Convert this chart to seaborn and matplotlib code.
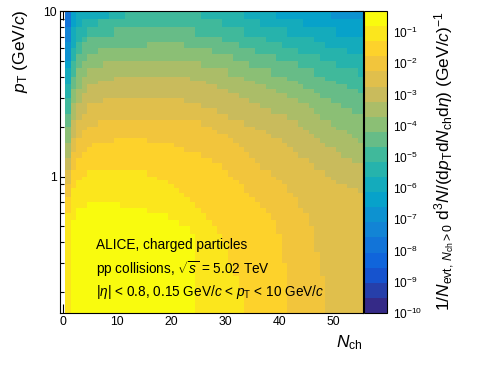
import numpy as np
import pandas as pd
import matplotlib
matplotlib.use("Agg")
import matplotlib.pyplot as plt
from matplotlib.colors import LinearSegmentedColormap, ListedColormap, LogNorm
from matplotlib.cm import ScalarMappable
from matplotlib.ticker import FixedLocator, FixedFormatter, MultipleLocator, NullFormatter, LogLocator
import seaborn as sns

# pT bin edges (GeV/c) and the Nch bins (centred on integers, Nch=0 is empty)
pt_edges = [0.15, 0.2, 0.25, 0.3, 0.35, 0.4, 0.45, 0.5, 0.55, 0.6, 0.65, 0.7,
            0.75, 0.8, 0.85, 0.9, 0.95, 1.0, 1.1, 1.2, 1.3, 1.4, 1.5, 1.6, 1.7,
            1.8, 1.9, 2.0, 2.2, 2.4, 2.6, 2.8, 3.0, 3.2, 3.4, 3.6, 3.8, 4.0,
            4.5, 5.0, 5.5, 6.0, 6.5, 7.0, 8.0, 9.0, 10.0]
nch_edges = [n - 0.5 for n in range(0, 57)]

# colour band (0 = 1e-10 ... 19 = top), one row per pT bin
# (lowest pT first); each entry is (band, last Nch having that band)
band_runs = [
    [(18, 1), (19, 24), (18, 33), (17, 41), (16, 48), (15, 55)],
    [(18, 1), (19, 24), (18, 32), (17, 41), (16, 48), (15, 55)],
    [(18, 1), (19, 24), (18, 31), (17, 41), (16, 47), (15, 55)],
    [(18, 1), (19, 24), (18, 30), (17, 40), (16, 47), (15, 55)],
    [(18, 1), (19, 24), (18, 30), (17, 40), (16, 46), (15, 55)],
    [(18, 1), (19, 24), (18, 29), (17, 40), (16, 46), (15, 55)],
    [(18, 1), (19, 23), (18, 28), (17, 39), (16, 46), (15, 55)],
    [(18, 1), (19, 21), (18, 27), (17, 39), (16, 45), (15, 55)],
    [(18, 2), (19, 19), (18, 26), (17, 38), (16, 45), (15, 55)],
    [(17, 1), (18, 2), (19, 15), (18, 25), (17, 37), (16, 44), (15, 55)],
    [(17, 1), (18, 4), (19, 10), (18, 24), (17, 36), (16, 43), (15, 55)],
    [(17, 1), (18, 23), (17, 35), (16, 43), (15, 55)],
    [(16, 1), (18, 22), (17, 34), (16, 42), (15, 55)],
    [(16, 1), (18, 21), (17, 33), (16, 41), (15, 54), (14, 55)],
    [(16, 1), (17, 2), (18, 20), (17, 33), (16, 41), (15, 52), (14, 55)],
    [(15, 1), (17, 2), (18, 19), (17, 32), (16, 40), (15, 50), (14, 55)],
    [(15, 1), (17, 3), (18, 17), (17, 31), (16, 39), (15, 49), (14, 55)],
    [(15, 1), (17, 4), (18, 15), (17, 30), (16, 38), (15, 48), (14, 55)],
    [(14, 1), (16, 2), (17, 29), (16, 36), (15, 46), (14, 55)],
    [(14, 1), (16, 2), (17, 27), (16, 35), (15, 45), (14, 53), (13, 55)],
    [(13, 1), (16, 3), (17, 25), (16, 34), (15, 43), (14, 51), (13, 55)],
    [(13, 1), (15, 2), (16, 4), (17, 22), (16, 33), (15, 42), (14, 50), (13, 55)],
    [(13, 1), (15, 2), (16, 5), (17, 20), (16, 32), (15, 41), (14, 48), (13, 55)],
    [(12, 1), (15, 2), (16, 9), (17, 15), (16, 31), (15, 40), (14, 47), (13, 54), (12, 55)],
    [(12, 1), (14, 2), (15, 3), (16, 30), (15, 38), (14, 46), (13, 53), (12, 55)],
    [(12, 1), (14, 2), (15, 3), (16, 28), (15, 37), (14, 45), (13, 52), (12, 55)],
    [(12, 1), (14, 2), (15, 4), (16, 27), (15, 35), (14, 44), (13, 50), (12, 55)],
    [(11, 1), (14, 2), (15, 6), (16, 25), (15, 33), (14, 43), (13, 49), (12, 55)],
    [(11, 1), (13, 2), (14, 3), (15, 30), (14, 41), (13, 47), (12, 55)],
    [(10, 1), (13, 2), (14, 4), (15, 28), (14, 38), (13, 46), (12, 53), (11, 55)],
    [(10, 1), (13, 2), (14, 4), (15, 25), (14, 36), (13, 45), (12, 51), (11, 55)],
    [(10, 1), (12, 2), (13, 3), (14, 7), (15, 22), (14, 34), (13, 43), (12, 49), (11, 55)],
    [(9, 1), (12, 2), (13, 3), (14, 32), (13, 41), (12, 47), (11, 55)],
    [(9, 1), (12, 2), (13, 4), (14, 30), (13, 39), (12, 46), (11, 54), (10, 55)],
    [(9, 1), (11, 2), (12, 3), (13, 4), (14, 28), (13, 37), (12, 44), (11, 52), (10, 55)],
    [(8, 1), (11, 2), (12, 3), (13, 6), (14, 26), (13, 35), (12, 43), (11, 50), (10, 55)],
    [(8, 1), (11, 2), (12, 3), (13, 9), (14, 23), (13, 33), (12, 41), (11, 48), (10, 55)],
    [(8, 1), (10, 2), (12, 4), (13, 30), (12, 38), (11, 46), (10, 54), (9, 55)],
    [(7, 1), (10, 2), (11, 3), (12, 7), (13, 25), (12, 34), (11, 43), (10, 50), (9, 55)],
    [(6, 1), (9, 2), (11, 4), (12, 31), (11, 39), (10, 47), (9, 55)],
    [(6, 1), (9, 2), (10, 3), (11, 6), (12, 27), (11, 35), (10, 43), (9, 52), (8, 55)],
    [(6, 1), (8, 2), (10, 3), (11, 15), (12, 22), (11, 32), (10, 40), (9, 48), (8, 55)],
    [(5, 1), (8, 2), (9, 3), (10, 4), (11, 29), (10, 37), (9, 46), (8, 55)],
    [(5, 1), (8, 2), (9, 4), (10, 9), (11, 24), (10, 33), (9, 41), (8, 50), (7, 55)],
    [(4, 1), (7, 2), (8, 3), (9, 6), (10, 29), (9, 36), (8, 44), (7, 55)],
    [(4, 1), (7, 2), (8, 8), (9, 11), (10, 25), (9, 33), (8, 39), (7, 49), (6, 55)],
]

z_min, z_max, n_bands = 1e-10, 0.47, 20
cbar_ticks = [10.0 ** -k for k in range(1, 11)]
cbar_labels = ["$10^{-%d}$" % k for k in range(1, 11)]

# ROOT kBird palette
bird_stops = [0.0, 0.125, 0.25, 0.375, 0.5, 0.625, 0.75, 0.875, 1.0]
bird_rgb = [(0.2082, 0.1664, 0.5293), (0.0592, 0.3599, 0.8684), (0.0780, 0.5041, 0.8385),
            (0.0232, 0.6419, 0.7914), (0.1802, 0.7178, 0.6425), (0.5301, 0.7492, 0.4662),
            (0.8186, 0.7328, 0.3499), (0.9956, 0.7862, 0.1968), (0.9764, 0.9832, 0.0539)]
bird = LinearSegmentedColormap.from_list("bird", list(zip(bird_stops, bird_rgb)))
cmap20 = ListedColormap([bird(k / (n_bands - 1)) for k in range(n_bands)])
norm = LogNorm(z_min, z_max)

# expand the runs into one value per (Nch, pT) cell
step = (np.log10(z_max) - np.log10(z_min)) / n_bands
rows = []
for i, runs in enumerate(band_runs):
    pt = np.sqrt(pt_edges[i] * pt_edges[i + 1])
    start = 1
    for band, last in runs:
        for n in range(start, last + 1):
            rows.append((n, pt, 10 ** (np.log10(z_min) + (band + 0.5) * step)))
        start = last + 1
df = pd.DataFrame(rows, columns=["nch", "pt", "value"])

sns.set_style("ticks")
plt.rcParams["font.family"] = ["Liberation Sans", "DejaVu Sans"]
plt.rcParams["mathtext.fontset"] = "custom"
plt.rcParams["mathtext.rm"] = "Liberation Sans"
plt.rcParams["mathtext.it"] = "Liberation Sans:italic"
plt.rcParams["mathtext.bf"] = "Liberation Sans:bold"
plt.rcParams["text.color"] = "black"

fig = plt.figure(figsize=(4.86, 3.74), dpi=100)
ax = fig.add_axes([60 / 486, 61 / 374, 303 / 486, 302 / 374])
cax = fig.add_axes([364 / 486, 61 / 374, 23 / 486, 302 / 374])

sns.histplot(data=df, x="nch", y="pt", weights="value",
             bins=[nch_edges, pt_edges], cmap=cmap20, cbar=False, ax=ax)
mesh = ax.collections[0]
mesh.set_norm(norm)

ax.set_yscale("log")
ax.set_xlim(-0.5, 55.5)
ax.set_ylim(0.15, 10)
ax.set_xlabel("")
ax.set_ylabel("")
ax.set_facecolor("white")

ax.xaxis.set_major_locator(MultipleLocator(10))
ax.xaxis.set_minor_locator(MultipleLocator(2))
ax.yaxis.set_major_locator(FixedLocator([1, 10]))
ax.yaxis.set_major_formatter(FixedFormatter(["1", "10"]))
ax.yaxis.set_minor_locator(FixedLocator([0.2, 0.3, 0.4, 0.5, 0.6, 0.7, 0.8, 0.9,
                                         2, 3, 4, 5, 6, 7, 8, 9]))
ax.yaxis.set_minor_formatter(NullFormatter())
ax.tick_params(which="both", direction="in", top=True, right=True,
               color="black", width=0.8, labelsize=8.8, labelcolor="black", pad=2.5)
ax.tick_params(which="major", length=6.5)
ax.tick_params(which="minor", length=3.2)
for sp in ax.spines.values():
    sp.set_visible(True)
    sp.set_color("black")
    sp.set_linewidth(0.8)

cb = fig.colorbar(ScalarMappable(norm=norm, cmap=cmap20), cax=cax)
cb.outline.set_edgecolor("black")
cb.outline.set_linewidth(0.8)
cax.yaxis.set_ticks_position("right")
cax.yaxis.set_major_locator(FixedLocator(cbar_ticks))
cax.yaxis.set_major_formatter(FixedFormatter(cbar_labels))
cax.yaxis.set_minor_locator(LogLocator(base=10, subs=np.arange(2, 10)))
cax.yaxis.set_minor_formatter(NullFormatter())
cax.tick_params(which="both", direction="in", color="black", width=0.7,
                labelsize=8.6, labelcolor="black", pad=4)
cax.tick_params(which="major", length=5)
cax.tick_params(which="minor", length=2.5)

fig.text(363 / 486, 1 - 347 / 374, r"$N_{\rm ch}$", ha="right", va="baseline", fontsize=12.5)
fig.text(20 / 486, 1 - 9.5 / 374, r"$p_{\rm T}$ (GeV/$c$)", rotation=90,
         ha="center", va="top", fontsize=12.5)
fig.text(445 / 486, 1 - 161.5 / 374,
         r"$1/N_{\rm evt,\, \it{N}_{\rm ch}>0}\ {\rm d}^{3}N/({\rm d}p_{\rm T}{\rm d}N_{\rm ch}{\rm d}\eta)$ (GeV/$c$)$^{-1}$",
         rotation=90, ha="center", va="center", fontsize=12.5)

fig.text(96 / 486, 1 - 249.5 / 374, "ALICE, charged particles", fontsize=9.8, va="baseline")
fig.text(96 / 486, 1 - 274 / 374, r"pp collisions, $\sqrt{s}$ = 5.02 TeV", fontsize=9.8, va="baseline")
fig.text(96 / 486, 1 - 295.7 / 374,
         r"|$\eta$| < 0.8, 0.15 GeV/$c$ < $p_{\rm T}$ < 10 GeV/$c$", fontsize=9.8, va="baseline")

fig.savefig("out.png", dpi=100)
